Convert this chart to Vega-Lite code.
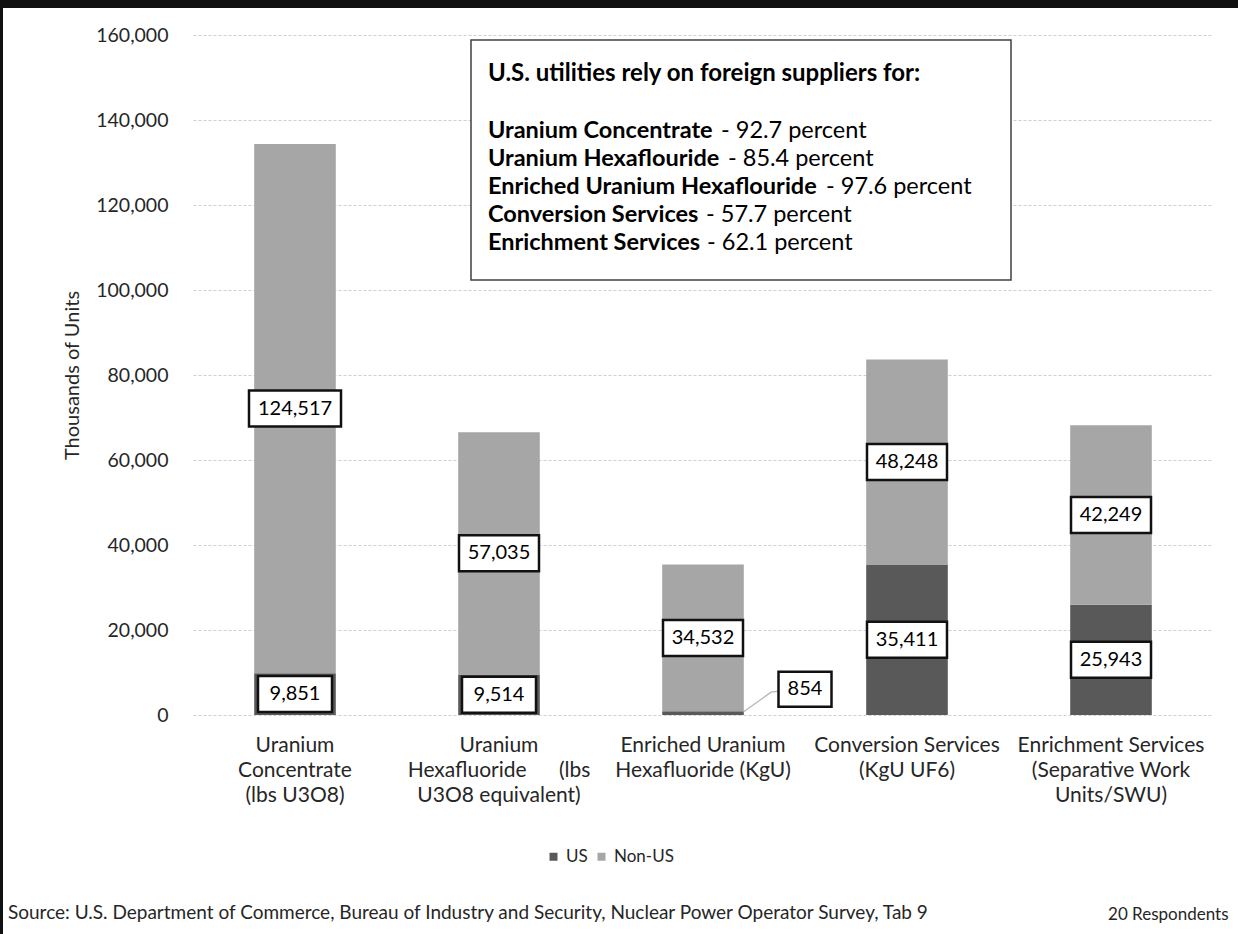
{
  "$schema": "https://vega.github.io/schema/vega-lite/v6.json",
  "width": 1020,
  "height": 680,
  "autosize": {"type": "none"},
  "padding": {"left": 193, "top": 35, "right": 25, "bottom": 219},
  "background": "white",
  "config": {"font": "Lato", "view": {"stroke": null}},
  "title": {
    "text": "Source: U.S. Department of Commerce, Bureau of Industry and Security, Nuclear Power Operator Survey, Tab 9",
    "orient": "bottom", "anchor": "start", "frame": "group", "dx": -185, "offset": -30,
    "fontSize": 19, "fontWeight": "normal", "color": "#262626", "font": "Lato"
  },
  "datasets": {
    "supply": [
      {"category": "Uranium|Concentrate|(lbs U3O8)", "origin": "US", "value": 9851},
      {"category": "Uranium|Concentrate|(lbs U3O8)", "origin": "Non-US", "value": 124517},
      {"category": "Uranium|Hexafluoride\u00a0\u00a0\u00a0\u00a0\u00a0\u00a0(lbs|U3O8 equivalent)", "origin": "US", "value": 9514},
      {"category": "Uranium|Hexafluoride\u00a0\u00a0\u00a0\u00a0\u00a0\u00a0(lbs|U3O8 equivalent)", "origin": "Non-US", "value": 57035},
      {"category": "Enriched Uranium|Hexafluoride (KgU)", "origin": "US", "value": 854},
      {"category": "Enriched Uranium|Hexafluoride (KgU)", "origin": "Non-US", "value": 34532},
      {"category": "Conversion Services|(KgU UF6)", "origin": "US", "value": 35411},
      {"category": "Conversion Services|(KgU UF6)", "origin": "Non-US", "value": 48248},
      {"category": "Enrichment Services|(Separative Work|Units/SWU)", "origin": "US", "value": 25943},
      {"category": "Enrichment Services|(Separative Work|Units/SWU)", "origin": "Non-US", "value": 42249}
    ],
    "note": [
      {"line": 0, "bold": "U.S. utilities rely on foreign suppliers for:", "rest": ""},
      {"line": 1, "bold": "Uranium Concentrate", "rest": "- 92.7 percent"},
      {"line": 2, "bold": "Uranium Hexaflouride", "rest": "- 85.4 percent"},
      {"line": 3, "bold": "Enriched Uranium Hexaflouride", "rest": "- 97.6 percent"},
      {"line": 4, "bold": "Conversion Services", "rest": "- 57.7 percent"},
      {"line": 5, "bold": "Enrichment Services", "rest": "- 62.1 percent"}
    ]
  },
  "layer": [
    {
      "data": {"name": "supply"},
      "mark": {"type": "bar"},
      "encoding": {
        "x": {
          "field": "category", "type": "nominal", "sort": null,
          "scale": {"paddingInner": 0.6, "paddingOuter": 0.3},
          "axis": {
            "title": "20 Respondents", "titleX": 1035, "titleY": 199, "titleAlign": "right", "titleBaseline": "middle",
            "titleFontSize": 17, "titleFontWeight": "normal", "titleColor": "#262626", "titleFont": "Lato",
            "labelExpr": "split(datum.label, '|')", "labelAngle": 0, "labelFontSize": 21, "labelLineHeight": 25,
            "labelPadding": 19, "labelColor": "#262626", "labelFont": "Lato", "labelLimit": 0,
            "domain": false, "ticks": false, "grid": false
          }
        },
        "y": {
          "field": "value", "type": "quantitative", "stack": "zero",
          "scale": {"domain": [0, 160000]},
          "axis": {
            "title": "Thousands of Units", "values": [0, 20000, 40000, 60000, 80000, 100000, 120000, 140000, 160000],
            "format": ",d", "domain": false, "ticks": false, "labelPadding": 25, "labelFontSize": 19.5, "labelColor": "#262626",
            "labelFont": "Lato", "gridColor": "#cfcfcf", "gridDash": [3, 2], "titleFontSize": 20, "titleFontWeight": "normal",
            "titleColor": "#262626", "titleFont": "Lato", "titleX": -121, "titleY": 340, "titleAngle": -90, "titleAlign": "center",
            "titleBaseline": "middle"
          }
        },
        "color": {
          "field": "origin", "type": "nominal",
          "scale": {"domain": ["US", "Non-US"], "range": ["#595959", "#a6a6a6"]},
          "legend": {
            "title": null, "orient": "none", "legendX": 352, "legendY": 813, "direction": "horizontal",
            "symbolType": "square", "symbolSize": 64, "labelFontSize": 17, "labelColor": "#262626", "labelFont": "Lato",
            "columnPadding": 5, "labelOffset": 4, "symbolStrokeWidth": 0
          }
        },
        "order": {"field": "origin", "sort": "descending"}
      }
    },
    {
      "data": {"name": "supply"},
      "mark": {"type": "point", "filled": true, "fill": "white", "stroke": "#111111", "strokeWidth": 2.5, "size": 10000},
      "encoding": {
        "x": {"field": "category", "type": "nominal", "sort": null},
        "y": {"field": "value", "type": "quantitative", "stack": "zero", "bandPosition": 0.5},
        "detail": {"field": "origin"},
        "order": {"field": "origin", "sort": "descending"},
        "shape": {
          "condition": [
            {"test": "datum.value >= 100000", "value": "M-0.92,-0.36H0.92V0.36H-0.92Z"},
            {"test": "datum.value >= 10000", "value": "M-0.8,-0.36H0.8V0.36H-0.8Z"}
          ],
          "value": "M-0.74,-0.36H0.74V0.36H-0.74Z"
        },
        "opacity": {"condition": {"test": "datum.value < 1000", "value": 0}, "value": 1}
      }
    },
    {
      "data": {"name": "supply"},
      "mark": {"type": "text", "fontSize": 20, "color": "#000000", "font": "Lato", "baseline": "middle"},
      "encoding": {
        "x": {"field": "category", "type": "nominal", "sort": null},
        "y": {"field": "value", "type": "quantitative", "stack": "zero", "bandPosition": 0.5},
        "detail": {"field": "origin"},
        "order": {"field": "origin", "sort": "descending"},
        "text": {"field": "value", "type": "quantitative", "format": ",d"},
        "opacity": {"condition": {"test": "datum.value < 1000", "value": 0}, "value": 1}
      }
    },
    {
      "data": {"name": "supply"},
      "transform": [{"filter": "datum.value < 1000"}],
      "mark": {"type": "point", "filled": false, "stroke": "#9a9a9a", "strokeWidth": 1.3, "size": 10000, "shape": "M0.8,-0.02L1.36,-0.42L1.52,-0.44"},
      "encoding": {
        "x": {"field": "category", "type": "nominal", "sort": null},
        "y": {"field": "value", "type": "quantitative", "stack": "zero", "bandPosition": 0.5},
        "detail": {"field": "origin"}
      }
    },
    {
      "data": {"name": "supply"},
      "transform": [{"filter": "datum.value < 1000"}],
      "mark": {"type": "point", "filled": true, "fill": "white", "stroke": "#111111", "strokeWidth": 2.5, "size": 10000,
               "shape": "M-0.53,-0.35H0.53V0.35H-0.53Z", "xOffset": 102, "yOffset": -24, "opacity": 1},
      "encoding": {
        "x": {"field": "category", "type": "nominal", "sort": null},
        "y": {"field": "value", "type": "quantitative", "stack": "zero", "bandPosition": 0.5},
        "detail": {"field": "origin"}
      }
    },
    {
      "data": {"name": "supply"},
      "transform": [{"filter": "datum.value < 1000"}],
      "mark": {"type": "text", "fontSize": 20, "color": "#000000", "font": "Lato", "baseline": "middle", "xOffset": 102, "yOffset": -24},
      "encoding": {
        "x": {"field": "category", "type": "nominal", "sort": null},
        "y": {"field": "value", "type": "quantitative", "stack": "zero", "bandPosition": 0.5},
        "detail": {"field": "origin"},
        "text": {"field": "value", "type": "quantitative", "format": ",d"}
      }
    },
    {
      "data": {"name": "note"},
      "transform": [{"filter": "datum.line == 0"}],
      "mark": {"type": "point", "filled": true, "fill": "white", "stroke": "#404040", "strokeWidth": 1.5, "size": 10000,
               "shape": "M-5.4,-2.4H5.4V2.4H-5.4Z", "xOffset": 38, "opacity": 1},
      "encoding": {
        "x": {"datum": "Enriched Uranium|Hexafluoride (KgU)"},
        "y": {"datum": 130600}
      }
    },
    {
      "data": {"name": "note"},
      "mark": {"type": "text", "fontSize": {"expr": "datum.line == 0 ? 24 : 23.5"}, "fontWeight": "bold", "color": "#000000", "font": "Lato", "align": "left", "baseline": "middle",
               "xOffset": -11, "yOffset": {"expr": "datum.line == 0 ? 0 : 29 + 28 * datum.line"}},
      "encoding": {
        "x": {"datum": "Uranium|Hexafluoride\u00a0\u00a0\u00a0\u00a0\u00a0\u00a0(lbs|U3O8 equivalent)"},
        "y": {"datum": 150800},
        "text": {"field": "bold"}
      }
    },
    {
      "data": {"name": "note"},
      "transform": [{"filter": "datum.line > 0"}],
      "mark": {"type": "text", "fontSize": 23.5, "fontWeight": "normal", "color": "#000000", "font": "Lato", "align": "left", "baseline": "middle",
               "xOffset": {"expr": "[0, 229, 236, 334, 214, 215][datum.line] - 7"}, "yOffset": {"expr": "29 + 28 * datum.line"}},
      "encoding": {
        "x": {"datum": "Uranium|Hexafluoride\u00a0\u00a0\u00a0\u00a0\u00a0\u00a0(lbs|U3O8 equivalent)"},
        "y": {"datum": 150800},
        "text": {"field": "rest"}
      }
    },
    {
      "data": {"name": "note"},
      "transform": [{"filter": "datum.line == 0"}],
      "mark": {"type": "point", "filled": true, "fill": "#111111", "stroke": null, "strokeWidth": 0, "size": 10000,
               "shape": "M-5.9,-0.7H18.86V-0.54H-5.84V17.98H-5.9Z", "opacity": 1},
      "encoding": {
        "x": {"datum": "Uranium|Concentrate|(lbs U3O8)"},
        "y": {"datum": 160000}
      }
    }
  ]
}
